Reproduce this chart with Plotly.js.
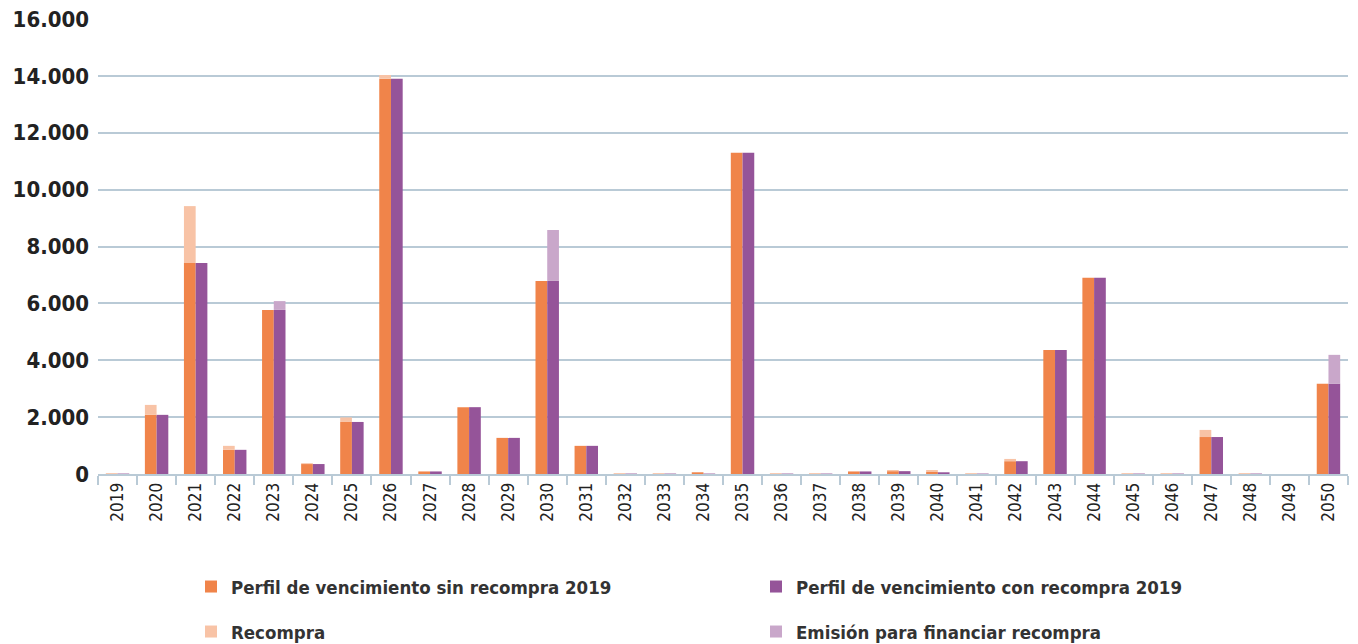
<!DOCTYPE html>
<html>
<head>
<meta charset="utf-8">
<script src="https://cdn.plot.ly/plotly-3.0.1.min.js"></script>
<style>html,body{margin:0;padding:0;background:#fff;}#chart{width:1358px;height:644px;}</style>
</head>
<body>
<div id="chart"></div>
<script>
const years = ['2019','2020','2021','2022','2023','2024','2025','2026','2027','2028','2029','2030','2031','2032','2033','2034','2035','2036','2037','2038','2039','2040','2041','2042','2043','2044','2045','2046','2047','2048','2049','2050'];
// Base profile after buyback (shared by both series)
const sinRecompra = [15,2080,7420,850,5770,350,1830,13900,90,2350,1270,6790,990,15,15,60,11300,15,15,90,100,70,15,450,4360,6900,15,15,1300,15,0,3170];
const recompra =    [0,350,2000,140,0,30,160,130,0,0,0,0,0,0,0,0,0,0,0,0,40,70,0,80,0,0,0,0,250,0,0,0];
const conRecompra = [15,2080,7420,850,5770,350,1830,13900,90,2350,1270,6790,990,15,15,15,11300,15,15,90,100,60,15,450,4360,6900,15,15,1300,15,0,3170];
const emision =     [0,0,0,0,310,0,0,0,0,0,0,1790,0,0,0,0,0,0,0,0,0,0,0,0,0,0,0,0,0,0,0,1020];
const yTicks = [0,2000,4000,6000,8000,10000,12000,14000,16000];

const FONT = '"DejaVu Sans Condensed", "Liberation Sans Narrow", sans-serif';
const cOrange = '#F0844A', cOrangeL = '#F8C3A6', cPurple = '#955499', cPurpleL = '#C9A7CA';

const traces = [
  {type:'bar', x:years, y:sinRecompra, name:'Perfil de vencimiento sin recompra 2019', marker:{color:cOrange}, offsetgroup:'a', legend:'legend'},
  {type:'bar', x:years, y:conRecompra, name:'Perfil de vencimiento con recompra 2019', marker:{color:cPurple}, offsetgroup:'b', legend:'legend2'},
  {type:'bar', x:years, y:recompra, base:sinRecompra, name:'Recompra', marker:{color:cOrangeL}, offsetgroup:'a', legend:'legend3'},
  {type:'bar', x:years, y:emision, base:conRecompra, name:'Emisión para financiar recompra', marker:{color:cPurpleL}, offsetgroup:'b', legend:'legend4'}
];

function leg(xpx, ypx) {
  return {orientation:'h', xref:'container', yref:'container', x:xpx/1358, y:1 - ypx/644, xanchor:'left', yanchor:'middle',
    font:{family:FONT, size:18.5, color:'#333', weight:'bold'}, bgcolor:'rgba(0,0,0,0)', borderwidth:0,
    itemclick:false, itemdoubleclick:false};
}

const layout = {
  width:1358, height:644,
  margin:{l:98, r:10, t:19, b:170, autoexpand:false},
  paper_bgcolor:'#fff', plot_bgcolor:'#fff',
  separators:',.',
  barmode:'group', bargap:0.4, bargroupgap:0,
  showlegend:true,
  xaxis:{type:'category', tickangle:-90, tickson:'boundaries', ticks:'outside', ticklen:9, tickcolor:'#b9cad6', tickwidth:2,
    showline:true, linecolor:'#b9cad6', linewidth:2, showgrid:false, automargin:false,
    tickfont:{family:FONT, size:17, color:'#222'}},
  yaxis:{range:[0,16000], tickvals:yTicks, tickformat:',d', showgrid:true, gridcolor:'#b9cad6', gridwidth:2, automargin:false,
    zeroline:false, tickfont:{family:FONT, size:22, color:'#222', weight:'bold'}, ticklabelstandoff:8, fixedrange:true},
  legend:leg(191, 587),
  legend2:leg(756, 587),
  legend3:leg(191, 632),
  legend4:leg(756, 632)
};

Plotly.newPlot('chart', traces, layout, {displayModeBar:false, staticPlot:true});
</script>
</body>
</html>
